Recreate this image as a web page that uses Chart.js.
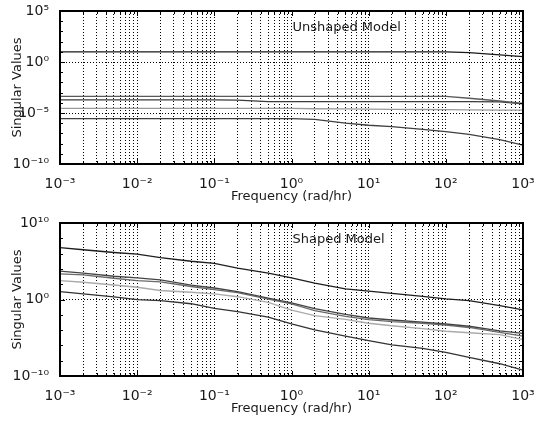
<!DOCTYPE html>
<html>
<head>
<meta charset="utf-8">
<script src="https://cdn.jsdelivr.net/npm/chart.js@4"></script>
<style>
  body { margin: 0; background: #fff; }
  canvas { position: absolute; left: 0; }
</style>
</head>
<body>
<canvas id="unshaped-chart" width="534" height="213" style="top:0"></canvas>
<canvas id="shaped-chart" width="534" height="213" style="top:212px"></canvas>
<script>
// frequency points (rad/hr)
const freq = [1e-3, 2e-3, 5e-3, 1e-2, 2e-2, 5e-2, 0.1, 0.2, 0.5, 1, 2, 5, 10, 20, 50, 100, 200, 500, 1000];

// Unshaped model singular values
const unshaped1 = [10, 10, 10, 10, 10, 10, 10, 10, 10, 10, 10, 10, 10, 10, 10, 10, 8.3, 4.9, 3.3];
const unshaped2 = [4.3e-4, 4.3e-4, 4.3e-4, 4.3e-4, 4.3e-4, 4.3e-4, 4.3e-4, 4.3e-4, 4.3e-4, 4.3e-4, 4.3e-4, 4.3e-4, 4.3e-4, 4.3e-4, 4.3e-4, 4.3e-4, 2.8e-4, 1.5e-4, 8.9e-5];
const unshaped3 = [1.9e-4, 1.9e-4, 1.9e-4, 1.9e-4, 1.9e-4, 1.9e-4, 1.9e-4, 1.8e-4, 1.3e-4, 1.3e-4, 1.3e-4, 1.3e-4, 1.3e-4, 1.3e-4, 1.3e-4, 1.3e-4, 1.3e-4, 1.25e-4, 7.9e-5];
const unshaped4 = [2.8e-5, 2.8e-5, 2.8e-5, 2.8e-5, 2.8e-5, 2.8e-5, 2.8e-5, 2.8e-5, 2.8e-5, 2.8e-5, 2.6e-5, 2.5e-5, 2.4e-5, 2.3e-5, 2.2e-5, 2.1e-5, 2.0e-5, 1.95e-5, 1.9e-5];
const unshaped5 = [2.8e-6, 2.8e-6, 2.8e-6, 2.8e-6, 2.8e-6, 2.8e-6, 2.8e-6, 2.8e-6, 2.8e-6, 2.8e-6, 2.4e-6, 1e-6, 6.3e-7, 4.6e-7, 2.5e-7, 1.5e-7, 7.9e-8, 2.4e-8, 7.1e-9];

// Shaped model singular values
const shapedA = [5.9e6, 3.2e6, 1.4e6, 8.5e5, 3.0e5, 1.0e5, 5.2e4, 1.3e4, 2.8e3, 680, 140, 25, 12.6, 6.5, 2.5, 1.2, 0.72, 0.16, 0.044];
const shapedB = [5.0e3, 2.8e3, 1.1e3, 680, 370, 74, 32, 10.5, 1.5, 0.35, 0.063, 0.011, 3.8e-3, 2.1e-3, 1.1e-3, 6.3e-4, 3.2e-4, 7.9e-5, 3.7e-5];
const shapedC = [2.3e3, 1.7e3, 600, 300, 200, 50, 20, 7.9, 1.1, 0.26, 0.035, 6.3e-3, 2.3e-3, 1.3e-3, 7.9e-4, 4.6e-4, 2.2e-4, 5e-5, 1.6e-5];
const shapedD = [300, 180, 79, 40, 15, 8.9, 5.4, 2.3, 0.43, 0.04, 7.9e-3, 2.5e-3, 7.9e-4, 3.7e-4, 1.6e-4, 7.1e-5, 4.5e-5, 2.5e-5, 5.6e-6];
const shapedE = [10.7, 5.4, 2.2, 0.98, 0.72, 0.28, 0.071, 0.026, 5e-3, 6.3e-4, 1.1e-4, 1.6e-5, 4.3e-6, 1.2e-6, 4e-7, 1.2e-7, 2.7e-8, 4e-9, 5.8e-10];

// tick label exponents
const xTickExps = [-3, -2, -1, 0, 1, 2, 3];
const unshapedYExps = [-10, -5, 0, 5];
const shapedYExps = [-10, 0, 10];

const FONT = 'DejaVu Sans';
const sup = {'-': '\u207B', '0': '\u2070', '1': '\u00B9', '2': '\u00B2', '3': '\u00B3', '4': '\u2074',
  '5': '\u2075', '6': '\u2076', '7': '\u2077', '8': '\u2078', '9': '\u2079'};

function powLabel(e) {
  return '10' + String(e).split('').map(c => sup[c]).join('');
}
function expOf(v) { return Math.round(Math.log10(v)); }
function isDecade(v) { return Math.abs(Math.log10(v) - expOf(v)) < 1e-9; }

// no extra room for labels hanging past the plot edges
function noOverhang(scale) {
  scale.paddingLeft = 0;
  scale.paddingRight = 0;
  scale.paddingTop = 0;
  scale.paddingBottom = 0;
}

// frame, inside tick marks and the panel caption
const framePlugin = {
  id: 'frame',
  afterDraw(chart, args, opts) {
    const ctx = chart.ctx;
    const a = chart.chartArea;
    const xs = chart.scales.x, ys = chart.scales.y;
    ctx.save();
    ctx.strokeStyle = '#000';
    ctx.lineWidth = 1;
    ctx.beginPath();
    xs.ticks.forEach(t => {
      const px = Math.round(xs.getPixelForValue(t.value)) + 0.5;
      const len = isDecade(t.value) ? 5 : 3;
      ctx.moveTo(px, a.bottom); ctx.lineTo(px, a.bottom - len);
      ctx.moveTo(px, a.top); ctx.lineTo(px, a.top + len);
    });
    ys.ticks.forEach(t => {
      const py = Math.round(ys.getPixelForValue(t.value)) + 0.5;
      const len = opts.labels.includes(expOf(t.value)) ? 5 : 3;
      ctx.moveTo(a.left, py); ctx.lineTo(a.left + len, py);
      ctx.moveTo(a.right, py); ctx.lineTo(a.right - len, py);
    });
    ctx.stroke();
    ctx.lineWidth = 2;
    ctx.strokeRect(a.left, a.top, a.right - a.left, a.bottom - a.top);
    ctx.fillStyle = '#1a1a1a';
    ctx.font = '13px "' + FONT + '"';
    ctx.textAlign = 'left';
    ctx.textBaseline = 'middle';
    ctx.fillText(opts.caption, xs.getPixelForValue(1) + 1, a.top + 17);
    ctx.restore();
  }
};

function makeChart(canvasId, caption, yMax, yLabels, yStep, series, colors) {
  const datasets = series.map((vals, i) => ({
    data: freq.map((f, j) => ({x: f, y: vals[j]})),
    borderColor: colors[i],
    borderWidth: 1.3,
    pointRadius: 0,
    tension: 0,
    fill: false
  }));
  return new Chart(document.getElementById(canvasId), {
    type: 'line',
    data: {datasets: datasets},
    plugins: [framePlugin],
    options: {
      responsive: false,
      animation: false,
      devicePixelRatio: 1,
      layout: {padding: {top: 11, right: 11, left: 0, bottom: 0}},
      plugins: {
        legend: {display: false},
        tooltip: {enabled: false},
        frame: {caption: caption, labels: yLabels}
      },
      scales: {
        x: {
          type: 'logarithmic',
          min: 1e-3,
          max: 1e3,
          afterBuildTicks: scale => {
            const ticks = [];
            xTickExps.forEach((e, i) => {
              const last = i === xTickExps.length - 1;
              for (let m = 1; m <= (last ? 1 : 9); m++) ticks.push({value: m * Math.pow(10, e)});
            });
            scale.ticks = ticks;
          },
          afterFit: scale => { scale.height = 49; noOverhang(scale); },
          grid: {color: '#000', lineWidth: 1, drawTicks: false},
          border: {display: false, dash: [1, 2]},
          ticks: {
            autoSkip: false, maxRotation: 0, minRotation: 0, padding: 12,
            color: '#1a1a1a', font: {family: FONT, size: 14},
            callback: v => isDecade(v) ? powLabel(expOf(v)) : ''
          },
          title: {
            display: true, text: 'Frequency (rad/hr)', color: '#1a1a1a',
            font: {family: FONT, size: 13}, padding: {top: 0, bottom: 9}
          }
        },
        y: {
          type: 'logarithmic',
          min: 1e-10,
          max: yMax,
          afterBuildTicks: scale => {
            const ticks = [];
            for (let e = yLabels[0]; e <= yLabels[yLabels.length - 1]; e += yStep) {
              ticks.push({value: Math.pow(10, e)});
            }
            scale.ticks = ticks;
          },
          afterFit: scale => { scale.width = 60; noOverhang(scale); },
          grid: {
            color: c => (c.tick && yLabels.includes(expOf(c.tick.value))) ? '#000' : 'rgba(0,0,0,0)',
            lineWidth: 1,
            drawTicks: false
          },
          border: {display: false, dash: [1, 2]},
          ticks: {
            autoSkip: false, padding: 11,
            color: '#1a1a1a', font: {family: FONT, size: 14},
            callback: v => yLabels.includes(expOf(v)) ? powLabel(expOf(v)) : ''
          },
          title: {
            display: true, text: 'Singular Values', color: '#1a1a1a',
            font: {family: FONT, size: 13}, padding: {top: 10, bottom: 0}
          }
        }
      }
    }
  });
}

let unshapedChart = makeChart('unshaped-chart', 'Unshaped Model', 1e5, unshapedYExps, 1,
  [unshaped1, unshaped2, unshaped3, unshaped4, unshaped5],
  ['#1a1a1a', '#5a5a5a', '#3c3c3c', '#9a9a9a', '#404040']);

let shapedChart = makeChart('shaped-chart', 'Shaped Model', 1e10, shapedYExps, 2,
  [shapedA, shapedB, shapedC, shapedD, shapedE],
  ['#1e1e1e', '#444444', '#6a6a6a', '#aaaaaa', '#333333']);
</script>
</body>
</html>
